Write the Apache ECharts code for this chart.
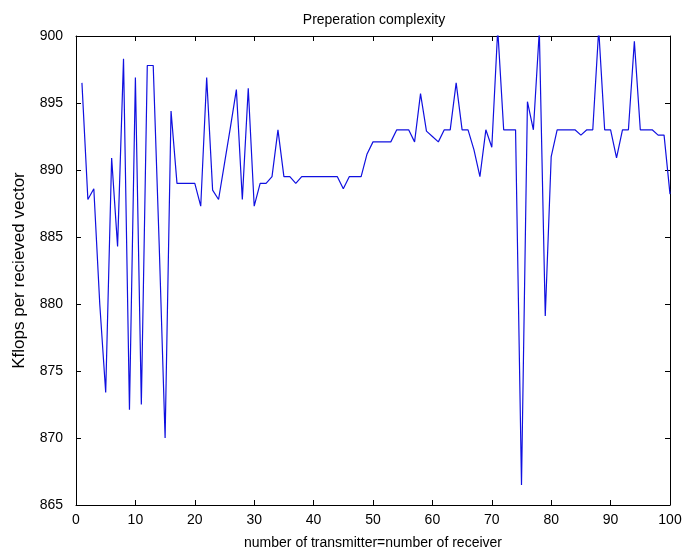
<!DOCTYPE html>
<html>
<head>
<meta charset="utf-8">
<script src="https://cdn.jsdelivr.net/npm/echarts@6/dist/echarts.min.js"></script>
<style>
html,body{margin:0;padding:0;background:#fff;}
#chart{width:685px;height:556px;}
</style>
</head>
<body>
<div id="chart"></div>
<script>
// x values: number of transmitter = number of receiver
var xValues = [1,2,3,4,5,6,7,8,9,10,11,12,13,14,15,16,17,18,19,20,
  21,22,23,24,25,26,27,28,29,30,31,32,33,34,35,36,37,38,39,40,
  41,42,43,44,45,46,47,48,49,50,51,52,53,54,55,56,57,58,59,60,
  61,62,63,64,65,66,67,68,69,70,71,72,73,74,75,76,77,78,79,80,
  81,82,83,84,85,86,87,88,89,90,91,92,93,94,95,96,97,98,99,100];
// Kflops per received vector
var kflops = [
  896.5, 887.8, 888.6, 880.0, 873.4, 890.9, 884.3, 898.3, 872.1, 896.9,
  872.5, 897.8, 897.8, 884.5, 870.0, 894.4, 889.0, 889.0, 889.0, 889.0,
  887.3, 896.9, 888.5, 887.8, 890.5, 893.2, 896.0, 887.8, 896.1, 887.3,
  889.0, 889.0, 889.5, 893.0, 889.5, 889.5, 889.0, 889.5, 889.5, 889.5,
  889.5, 889.5, 889.5, 889.5, 888.6, 889.5, 889.5, 889.5, 891.2, 892.1,
  892.1, 892.1, 892.1, 893.0, 893.0, 893.0, 892.1, 895.7, 892.9, 892.5,
  892.1, 893.0, 893.0, 896.5, 893.0, 893.0, 891.5, 889.5, 893.0, 891.7,
  900.5, 893.0, 893.0, 893.0, 866.5, 895.1, 893.0, 900.4, 879.1, 891.0,
  893.0, 893.0, 893.0, 893.0, 892.6, 893.0, 893.0, 900.5, 893.0, 893.0,
  890.9, 893.0, 893.0, 899.6, 893.0, 893.0, 893.0, 892.6, 892.6, 888.2
];
var xTicks = [0,10,20,30,40,50,60,70,80,90,100];
var yTicks = [865,870,875,880,885,890,895,900];

var titleText = 'Preperation complexity';
var xName = 'number of transmitter=number of receiver';
var yName = 'Kflops per recieved vector';

var seriesData = xValues.map(function(x, i){ return [x, kflops[i]]; });

var font = '"Liberation Sans", Arial, Helvetica, sans-serif';
var fs = 14;
var axisCommon = {
  axisLine: {show: true, onZero: false, lineStyle: {color: '#000', width: 1}},
  axisTick: {show: true, inside: true, length: 5, lineStyle: {color: '#000'}},
  splitLine: {show: false}
};
function ax(extra){ return Object.assign({}, JSON.parse(JSON.stringify(axisCommon)), extra); }

var gridLeft = 76, gridRight = 15, W = 685;
var chart = echarts.init(document.getElementById('chart'), null, {renderer: 'canvas'});
chart.setOption({
  backgroundColor: '#ffffff',
  animation: false,
  title: {
    text: titleText, left: (gridLeft + (W - gridRight)) / 2 - 4, top: 8, textAlign: 'center',
    textStyle: {fontFamily: font, fontSize: fs, fontWeight: 'normal', color: '#000'}
  },
  grid: {left: gridLeft, right: gridRight, top: 36, bottom: 51, containLabel: false},
  xAxis: [
    ax({type: 'value', position: 'bottom', min: xTicks[0], max: xTicks[xTicks.length-1], interval: 10,
      name: xName, nameLocation: 'middle', nameGap: 31,
      nameTextStyle: {fontFamily: font, fontSize: fs, color: '#000'},
      axisLabel: {show: true, margin: 8, fontFamily: font, fontSize: fs, color: '#000'}}),
    ax({type: 'value', position: 'top', min: xTicks[0], max: xTicks[xTicks.length-1], interval: 10,
      axisLabel: {show: false}})
  ],
  yAxis: [
    ax({type: 'value', position: 'left', min: yTicks[0], max: yTicks[yTicks.length-1], interval: 5,
      name: yName, nameLocation: 'middle', nameGap: 48, nameRotate: 90,
      nameTextStyle: {fontFamily: font, fontSize: 17, color: '#000'},
      axisLabel: {show: true, margin: 13, fontFamily: font, fontSize: fs, color: '#000'}}),
    ax({type: 'value', position: 'right', min: yTicks[0], max: yTicks[yTicks.length-1], interval: 5,
      axisLabel: {show: false}})
  ],
  series: [{
    type: 'line',
    xAxisIndex: 0, yAxisIndex: 0,
    data: seriesData,
    showSymbol: false,
    symbol: 'none',
    clip: true,
    lineStyle: {color: '#1010e0', width: 1.2},
    itemStyle: {color: '#1010e0'}
  }]
});
</script>
</body>
</html>
